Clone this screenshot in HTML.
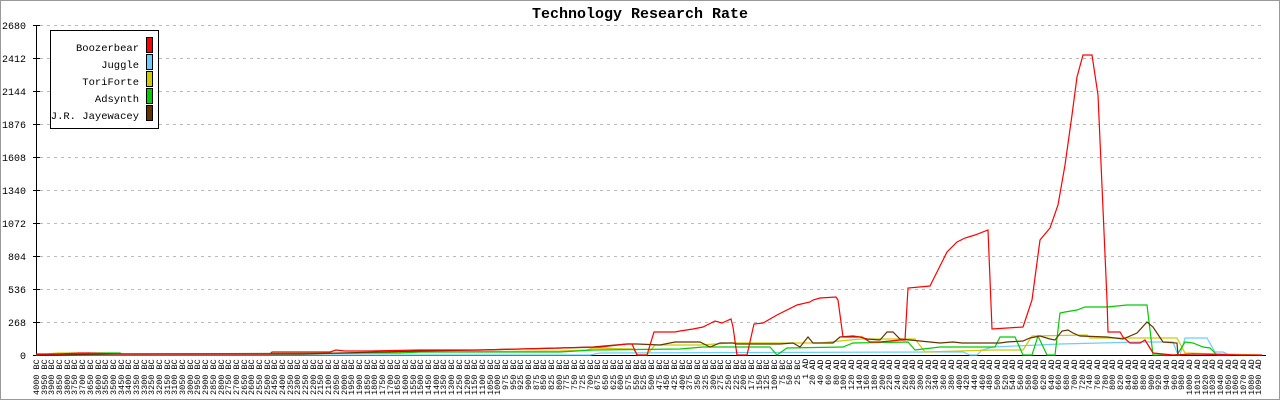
<!DOCTYPE html>
<html><head><meta charset="utf-8"><style>
html,body{margin:0;padding:0;background:#fff}
#w{position:relative;width:1278px;height:398px;border:1px solid #999;overflow:hidden;font-family:"Liberation Mono","DejaVu Sans Mono",monospace}
svg{position:absolute;left:-1px;top:-1px}
#xl{position:absolute;left:33px;top:358px;height:40px;display:flex}
#xl span{flex:0 0 7.7px;width:7.7px;height:40px;writing-mode:vertical-rl;transform:rotate(180deg);text-align:end;font-size:8.5px;line-height:7.7px;white-space:nowrap;color:#000}
</style></head><body><div id="w">
<svg width="1280" height="400" xmlns="http://www.w3.org/2000/svg" font-family="Liberation Mono, DejaVu Sans Mono, monospace">
<text x="640" y="18" text-anchor="middle" font-size="15" font-weight="bold">Technology Research Rate</text>
<g stroke="#bbb" stroke-dasharray="3,4" stroke-width="1">
<line x1="40" x2="1265" y1="25.5" y2="25.5"/><line x1="40" x2="1265" y1="58.5" y2="58.5"/><line x1="40" x2="1265" y1="91.5" y2="91.5"/><line x1="40" x2="1265" y1="124.5" y2="124.5"/><line x1="40" x2="1265" y1="157.5" y2="157.5"/><line x1="40" x2="1265" y1="190.5" y2="190.5"/><line x1="40" x2="1265" y1="223.5" y2="223.5"/><line x1="40" x2="1265" y1="256.5" y2="256.5"/><line x1="40" x2="1265" y1="289.5" y2="289.5"/><line x1="40" x2="1265" y1="322.5" y2="322.5"/>
</g>
<g font-size="10" text-anchor="end">
<text x="26" y="29">2680</text><text x="26" y="62">2412</text><text x="26" y="95">2144</text><text x="26" y="128">1876</text><text x="26" y="161">1608</text><text x="26" y="194">1340</text><text x="26" y="227">1072</text><text x="26" y="260">804</text><text x="26" y="293">536</text><text x="26" y="326">268</text><text x="26" y="359">0</text>
</g>
<g stroke="#000" stroke-width="1">
<line x1="36.5" y1="25" x2="36.5" y2="356"/>
<line x1="36" y1="355.5" x2="1266" y2="355.5"/>
<line x1="33" x2="40" y1="25.5" y2="25.5"/><line x1="33" x2="40" y1="58.5" y2="58.5"/><line x1="33" x2="40" y1="91.5" y2="91.5"/><line x1="33" x2="40" y1="124.5" y2="124.5"/><line x1="33" x2="40" y1="157.5" y2="157.5"/><line x1="33" x2="40" y1="190.5" y2="190.5"/><line x1="33" x2="40" y1="223.5" y2="223.5"/><line x1="33" x2="40" y1="256.5" y2="256.5"/><line x1="33" x2="40" y1="289.5" y2="289.5"/><line x1="33" x2="40" y1="322.5" y2="322.5"/><line x1="33" x2="40" y1="355.5" y2="355.5"/>
</g>
<g fill="none" stroke-width="1.2">
<polyline stroke="#6aceff" points="36,355 590,355 600,353 940,352 963,352 970,355 977,355 982,350 993,347 1060,344 1140,342 1173,342 1178,355 1180,355 1185,338 1207,338 1215,352 1223,352 1230,355"/>
<polyline stroke="#cccc00" points="36,355 58,353 80,353 82,354 300,354 420,352 560,351 587,350 593,348 633,349 638,355 647,355 655,345 700,345 730,343 820,343 840,341 860,339 915,339 925,352 993,350 1023,350 1032,336 1087,335 1090,338 1177,338 1185,353 1260,355"/>
<polyline stroke="#00cc00" points="36,355 88,354 88,353 120,353 122,354 400,353 420,352 560,352 593,350 680,349 703,347 770,347 777,355 787,348 843,347 853,343 908,342 915,350 940,347 995,347 1000,337 1015,337 1023,355 1032,355 1038,336 1047,355 1055,355 1060,313 1065,312 1077,310 1085,307 1107,307 1127,305 1147,305 1153,355 1177,355 1185,342 1193,343 1203,347 1210,348 1217,355 1230,355"/>
<polyline stroke="#663300" points="36,355 120,354 300,354 340,353 420,351 480,350 560,348 593,347 627,344 637,344 660,345 675,342 700,342 710,347 720,343 733,343 737,344 780,344 793,343 800,347 808,337 813,343 833,343 840,337 853,336 860,337 867,339 880,340 887,332 893,332 900,339 940,343 953,342 962,343 1000,343 1007,342 1023,341 1030,338 1040,336 1050,339 1055,340 1062,331 1068,330 1073,333 1080,336 1107,337 1123,339 1137,333 1147,322 1153,327 1163,342 1177,343 1178,355"/>
<polyline stroke="#ff0000" points="36,354 58,354 80,353 88,353 120,354 270,354 272,352 330,352 336,350 345,351 370,351 420,350 480,350 520,349 560,348 600,347 627,344 632,344 637,355 647,355 654,332 667,332 675,332 680,331 693,329 703,327 715,321 722,323 731,319 733,327 737,355 747,355 754,324 763,323 777,315 797,305 810,302 813,300 820,298 836,297 838,300 843,337 862,337 870,342 880,342 900,340 905,340 908,288 930,286 938,270 947,252 957,242 965,238 975,235 988,230 992,329 1023,327 1032,300 1040,240 1050,228 1058,205 1065,165 1072,115 1077,77 1083,55 1092,55 1098,95 1107,300 1108,332 1120,332 1123,337 1130,343 1140,343 1145,340 1153,353 1173,355 1193,354 1240,355 1262,355"/>
</g>
<rect x="50.5" y="30.5" width="108" height="98" fill="#fff" stroke="#000"/>
<g font-size="10.5" text-anchor="end">
<text x="139" y="51">Boozerbear</text><text x="139" y="68">Juggle</text><text x="139" y="85">ToriForte</text><text x="139" y="102">Adsynth</text><text x="139" y="119">J.R. Jayewacey</text>
</g>
<g stroke="#000">
<rect x="146.5" y="37.5" width="6" height="15" fill="#ff0000"/><rect x="146.5" y="54.5" width="6" height="15" fill="#6aceff"/><rect x="146.5" y="71.5" width="6" height="15" fill="#cccc00"/><rect x="146.5" y="88.5" width="6" height="15" fill="#00cc00"/><rect x="146.5" y="105.5" width="6" height="15" fill="#663300"/>
</g>
</svg>
<div id="xl"><span>4000 BC</span><span>3950 BC</span><span>3900 BC</span><span>3850 BC</span><span>3800 BC</span><span>3750 BC</span><span>3700 BC</span><span>3650 BC</span><span>3600 BC</span><span>3550 BC</span><span>3500 BC</span><span>3450 BC</span><span>3400 BC</span><span>3350 BC</span><span>3300 BC</span><span>3250 BC</span><span>3200 BC</span><span>3150 BC</span><span>3100 BC</span><span>3050 BC</span><span>3000 BC</span><span>2950 BC</span><span>2900 BC</span><span>2850 BC</span><span>2800 BC</span><span>2750 BC</span><span>2700 BC</span><span>2650 BC</span><span>2600 BC</span><span>2550 BC</span><span>2500 BC</span><span>2450 BC</span><span>2400 BC</span><span>2350 BC</span><span>2300 BC</span><span>2250 BC</span><span>2200 BC</span><span>2150 BC</span><span>2100 BC</span><span>2050 BC</span><span>2000 BC</span><span>1950 BC</span><span>1900 BC</span><span>1850 BC</span><span>1800 BC</span><span>1750 BC</span><span>1700 BC</span><span>1650 BC</span><span>1600 BC</span><span>1550 BC</span><span>1500 BC</span><span>1450 BC</span><span>1400 BC</span><span>1350 BC</span><span>1300 BC</span><span>1250 BC</span><span>1200 BC</span><span>1150 BC</span><span>1100 BC</span><span>1050 BC</span><span>1000 BC</span><span>975 BC</span><span>950 BC</span><span>925 BC</span><span>900 BC</span><span>875 BC</span><span>850 BC</span><span>825 BC</span><span>800 BC</span><span>775 BC</span><span>750 BC</span><span>725 BC</span><span>700 BC</span><span>675 BC</span><span>650 BC</span><span>625 BC</span><span>600 BC</span><span>575 BC</span><span>550 BC</span><span>525 BC</span><span>500 BC</span><span>475 BC</span><span>450 BC</span><span>425 BC</span><span>400 BC</span><span>375 BC</span><span>350 BC</span><span>325 BC</span><span>300 BC</span><span>275 BC</span><span>250 BC</span><span>225 BC</span><span>200 BC</span><span>175 BC</span><span>150 BC</span><span>125 BC</span><span>100 BC</span><span>75 BC</span><span>50 BC</span><span>25 BC</span><span>1 AD</span><span>20 AD</span><span>40 AD</span><span>60 AD</span><span>80 AD</span><span>100 AD</span><span>120 AD</span><span>140 AD</span><span>160 AD</span><span>180 AD</span><span>200 AD</span><span>220 AD</span><span>240 AD</span><span>260 AD</span><span>280 AD</span><span>300 AD</span><span>320 AD</span><span>340 AD</span><span>360 AD</span><span>380 AD</span><span>400 AD</span><span>420 AD</span><span>440 AD</span><span>460 AD</span><span>480 AD</span><span>500 AD</span><span>520 AD</span><span>540 AD</span><span>560 AD</span><span>580 AD</span><span>600 AD</span><span>620 AD</span><span>640 AD</span><span>660 AD</span><span>680 AD</span><span>700 AD</span><span>720 AD</span><span>740 AD</span><span>760 AD</span><span>780 AD</span><span>800 AD</span><span>820 AD</span><span>840 AD</span><span>860 AD</span><span>880 AD</span><span>900 AD</span><span>920 AD</span><span>940 AD</span><span>960 AD</span><span>980 AD</span><span>1000 AD</span><span>1010 AD</span><span>1020 AD</span><span>1030 AD</span><span>1040 AD</span><span>1050 AD</span><span>1060 AD</span><span>1070 AD</span><span>1080 AD</span><span>1090 AD</span></div>
</div></body></html>
